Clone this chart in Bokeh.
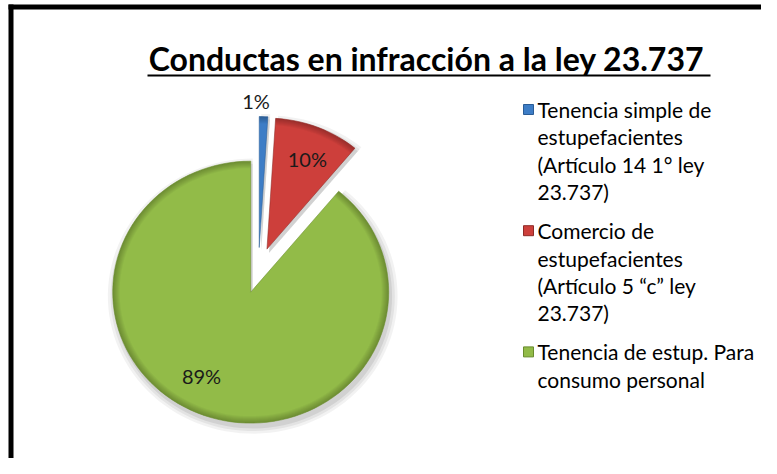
import numpy as np
from bokeh.plotting import figure
from bokeh.models import Range1d
from bokeh.core.properties import value
from bokeh.embed import file_html
from bokeh.resources import INLINE

# ---------------- data ----------------
title_text = "Conductas en infracción a la ley 23.737"
categories = [
    "Tenencia simple de\nestupefacientes\n(Artículo 14 1° ley\n23.737)",
    "Comercio de\nestupefacientes\n(Artículo 5 “c” ley\n23.737)",
    "Tenencia de estup. Para\nconsumo personal",
]
values = [1, 10, 89]
pct_labels = ["1%", "10%", "89%"]
colors = ["#3D7DC6", "#CD3F3B", "#92BB48"]
edge_colors = ["#2A5C96", "#8E2A27", "#6A8C2E"]

# ---------------- layout helpers (picture px -> data) ----------------
W, H = 761, 458
def X(px):
    return px
def Y(py):
    return H - py

p = figure(width=W, height=H, output_backend="svg", toolbar_location=None,
           x_range=Range1d(0, W), y_range=Range1d(0, H), min_border=0,
           background_fill_color="white", border_fill_color="white")
p.axis.visible = False
p.grid.visible = False
p.outline_line_color = None

FONT = value("Lato")

# border (thick black left/top)
p.line([X(10.5), X(10.5)], [Y(4), Y(470)], line_color="black", line_width=5)
p.line([X(8), X(780)], [Y(6.5), Y(6.5)], line_color="black", line_width=5)

# title
p.text([X(426)], [Y(58)], text=[title_text], text_font=FONT, text_font_style="bold",
       text_font_size="32px", text_align="center", text_baseline="middle",
       text_color="black")
p.line([X(147), X(710)], [Y(75), Y(75)], line_color="black", line_width=2)

# pie geometry (elliptical slices, angles clockwise from 12 o'clock)
cx, cy = 258.0, 270.0
rx, ry = 138.0, 131.0
explode = 23.0
vals = np.array(values, dtype=float)
fr = vals / vals.sum()
ends = np.cumsum(fr) * 360.0
starts = ends - fr * 360.0
label_rfac = [1.12, 0.745, 0.735]
label_ang_shift = [-3.0, 1.5, 9.2]


def arc_pts(ox, oy, s, e, fx, fy, n=120):
    a = np.radians(np.linspace(s, e, max(int(n * (e - s) / 360.0) + 3, 3)))
    return ox + fx * np.sin(a), oy - fy * np.cos(a)


def slice_poly(ox, oy, s, e, scale=1.0):
    xs, ys = arc_pts(ox, oy, s, e, rx * scale, ry * scale)
    xs = np.concatenate([[ox], xs])
    ys = np.concatenate([[oy], ys])
    return [X(v) for v in xs], [Y(v) for v in ys]


def ring_poly(ox, oy, s, e, inner):
    xo, yo = arc_pts(ox, oy, s, e, rx, ry)
    xi, yi = arc_pts(ox, oy, s, e, rx - inner, ry - inner)
    xs = np.concatenate([xo, xi[::-1]])
    ys = np.concatenate([yo, yi[::-1]])
    return [X(v) for v in xs], [Y(v) for v in ys]


centers = []
for i in range(len(vals)):
    mid = (starts[i] + ends[i]) / 2.0
    ox = cx + explode * np.sin(np.radians(mid))
    oy = cy - explode * np.cos(np.radians(mid))
    centers.append((ox, oy, mid))

# soft shadow
for i in range(len(vals)):
    ox, oy, mid = centers[i]
    for k, a in [(1.05, 0.05), (1.03, 0.06), (1.01, 0.08)]:
        xs, ys = slice_poly(ox + 2, oy + 4, starts[i], ends[i], k)
        p.patch(xs, ys, fill_color="black", fill_alpha=a, line_color=None)

for i in range(len(vals)):
    ox, oy, mid = centers[i]
    xs, ys = slice_poly(ox, oy, starts[i], ends[i])
    p.patch(xs, ys, fill_color=colors[i], line_color=None)
    # bevel: darken toward outer edge
    for k in range(1, 8):
        rxs, rys = ring_poly(ox, oy, starts[i], ends[i], k)
        p.patch(rxs, rys, fill_color="black", fill_alpha=0.035, line_color=None)
    p.patch(xs, ys, fill_color=None, line_color=edge_colors[i], line_width=1,
            line_alpha=0.55)
    # percent label
    la = np.radians(mid + label_ang_shift[i])
    lx = ox + label_rfac[i] * rx * np.sin(la)
    ly = oy - label_rfac[i] * ry * np.cos(la)
    p.text([X(lx)], [Y(ly)], text=[pct_labels[i]], text_font=FONT,
           text_font_size="20px", text_align="center", text_baseline="middle",
           text_color="#1a1a1a")

# legend (manual, wrapped lines)
marker_x, text_x = 528, 537
line_y = 109.0
line_h = 27.3
gap = 12.0
for i, lab in enumerate(categories):
    p.scatter([X(marker_x)], [Y(line_y)], marker="square", size=10,
              fill_color=colors[i], line_color=edge_colors[i], line_width=1)
    for ln in lab.split("\n"):
        p.text([X(text_x)], [Y(line_y)], text=[ln], text_font=FONT,
               text_font_size="21px", text_align="left", text_baseline="middle",
               text_color="black")
        line_y += line_h
    line_y += gap

open("out.html", "w").write(file_html(p, INLINE))
